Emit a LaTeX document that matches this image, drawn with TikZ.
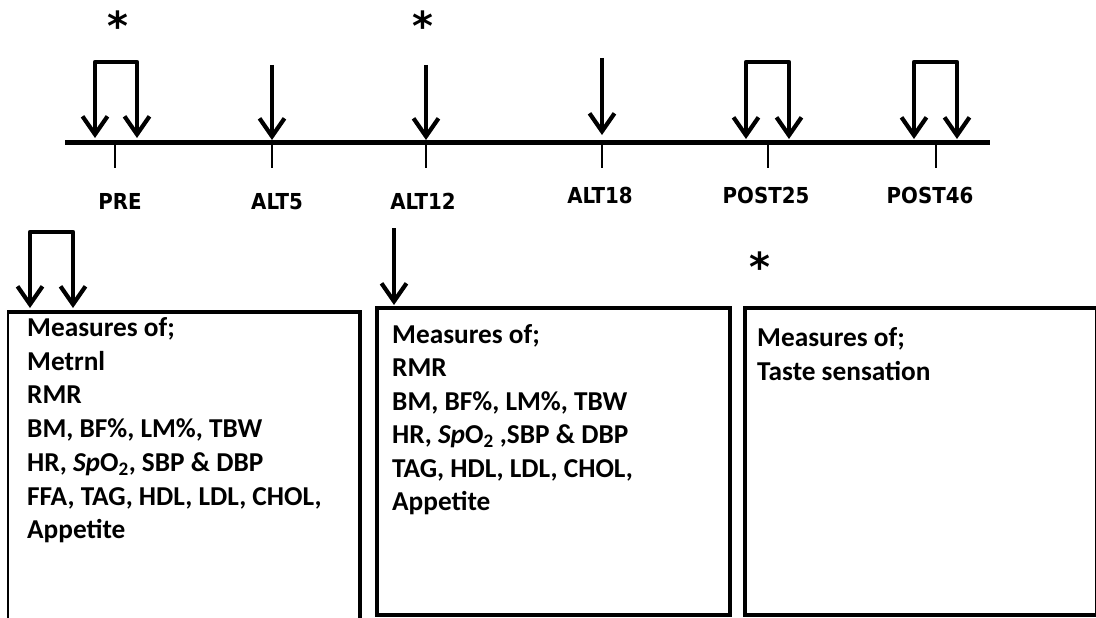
\documentclass[tikz,border=0pt]{standalone}
\usepackage{fontspec}
\setmainfont{Carlito}
\newfontfamily\labfont{DejaVu Sans Condensed}
\newfontfamily\starfont{DejaVu Sans}
\usetikzlibrary{arrows.meta}
\begin{document}
\begin{tikzpicture}[x=1pt,y=-1pt,
  tipv/.tip={Straight Barb[length=18pt,width=25pt]},
  arr/.style={line width=4.2pt,-tipv},
  brk/.style={line width=4.2pt,tipv-tipv,line join=round},
  tline/.style={line width=5pt},
  tickl/.style={line width=1.2pt},
  lab/.style={font=\labfont\bfseries\fontsize{22}{23}\selectfont,anchor=base,inner sep=0},
  starl/.style={font=\starfont\bfseries\fontsize{40}{40}\selectfont,anchor=base,inner sep=0},
  btext/.style={font=\bfseries\fontsize{27.3}{33.5}\selectfont,anchor=base west,inner sep=0},
  boxl/.style={line width=4.5pt}]
\useasboundingbox (0,0) rectangle (1096,618);
\clip (0,0) rectangle (1096,618);
\fill[white] (0,0) rectangle (1096,618);

% timeline
\coordinate (t0) at (65,142);
\coordinate (t1) at (990,142);
\draw[tline] (t0) -- (t1);

% ticks
\foreach \x/\n in {115/pre,272/alta,426/altb,602/altc,768/posta,936/postb}{
  \coordinate (k\n0) at (\x,142);
  \coordinate (k\n1) at (\x,168);
  \draw[tickl] (k\n0) -- (k\n1);
}

% labels
\node[lab] (lpre) at (120,209) {PRE};
\node[lab] (lalta) at (277,209) {ALT5};
\node[lab] (laltb) at (423,209) {ALT12};
\node[lab] (laltc) at (600,203) {ALT18};
\node[lab] (lposta) at (766,203) {POST25};
\node[lab] (lpostb) at (930,203) {POST46};

% stars
\node[starl] (s1) at (118,40.5) {*};
\node[starl] (s2) at (423,40.5) {*};
\node[starl] (s3) at (760,281.5) {*};

% top arrows
\coordinate (pa) at (95,138); \coordinate (pb) at (95,62);
\coordinate (pc) at (137,62); \coordinate (pd) at (137,138);
\draw[brk] (pa) -- (pb) -- (pc) -- (pd);

\coordinate (aa) at (272,65); \coordinate (ab) at (272,140);
\draw[arr] (aa) -- (ab);
\coordinate (ba) at (426,65); \coordinate (bb) at (426,140);
\draw[arr] (ba) -- (bb);
\coordinate (ca) at (602,58); \coordinate (cb) at (602,135);
\draw[arr] (ca) -- (cb);

\coordinate (qa) at (746,139); \coordinate (qb) at (746,62);
\coordinate (qc) at (789,62); \coordinate (qd) at (789,139);
\draw[brk] (qa) -- (qb) -- (qc) -- (qd);

\coordinate (ra) at (914,139); \coordinate (rb) at (914,62);
\coordinate (rc) at (957,62); \coordinate (rd) at (957,139);
\draw[brk] (ra) -- (rb) -- (rc) -- (rd);

% lower arrows
\coordinate (la) at (30,308); \coordinate (lb) at (30,232);
\coordinate (lc) at (73,232); \coordinate (ld) at (73,308);
\draw[brk] (la) -- (lb) -- (lc) -- (ld);
\coordinate (ma) at (394,228); \coordinate (mb) at (394,305);
\draw[arr] (ma) -- (mb);

% boxes
\draw[boxl] (8,312) -- (360,312) -- (360,640);
\draw[line width=1.5pt] (8,310) -- (8,640);
\draw[boxl] (377,308) rectangle (730,615);
\draw[boxl] (745,308) rectangle (1097.5,615);

% box 1 text
\node[btext] (a1) at (27,336.5) {Measures of;};
\node[btext] (a2) at (27,370.2) {Metrnl};
\node[btext] (a3) at (27,403.9) {RMR};
\node[btext] (a4) at (27,437.6) {BM, BF\%, LM\%, TBW};
\node[btext] (a5) at (27,471.3) {HR, \textit{Sp}O\textsubscript{2}, SBP \& DBP};
\node[btext] (a6) at (27,505.0) {FFA, TAG, HDL, LDL, CHOL,};
\node[btext] (a7) at (27,538.7) {Appetite};

% box 2 text
\node[btext] (b1) at (392,343.5) {Measures of;};
\node[btext] (b2) at (392,376.9) {RMR};
\node[btext] (b3) at (392,410.3) {BM, BF\%, LM\%, TBW};
\node[btext] (b4) at (392,443.7) {HR, \textit{Sp}O\textsubscript{2} ,SBP \& DBP};
\node[btext] (b5) at (392,477.1) {TAG, HDL, LDL, CHOL,};
\node[btext] (b6) at (392,510.5) {Appetite};

% box 3 text
\node[btext] (c1) at (757,346.5) {Measures of;};
\node[btext] (c2) at (757,380.5) {Taste sensation};
\end{tikzpicture}
\end{document}
